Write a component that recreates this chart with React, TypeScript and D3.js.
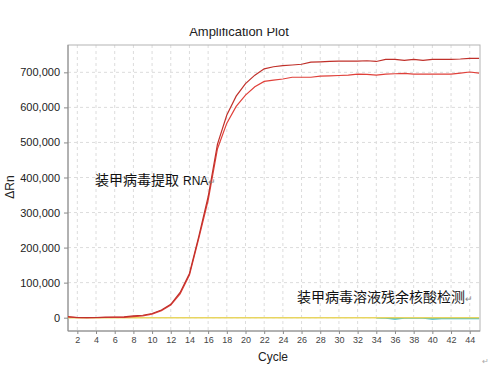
import React, { useRef, useEffect } from "react";
import * as d3 from "d3";

// cycles 1..45
const cycles = d3.range(1, 46);

// ΔRn, one entry per cycle
const rnaHigh = [
  3000, 500, 0, 500, 1500, 2000, 2500, 5000, 7000, 12000,
  22000, 38000, 72000, 126000, 232000, 345000, 495000, 578000, 632000, 668000,
  692000, 710000, 716000, 719000, 721000, 723000, 729000, 730000, 731000, 732000,
  732000, 732000, 733000, 731000, 737000, 737000, 734000, 737000, 734000, 737000,
  737000, 737000, 738000, 740000, 740000,
];
const rnaLow = [
  2000, 0, 0, 0, 500, 1000, 1000, 3000, 5000, 10000,
  20000, 36000, 68000, 122000, 226000, 335000, 482000, 555000, 603000, 635000,
  659000, 674000, 678000, 681000, 686000, 686000, 686000, 689000, 690000, 691000,
  692000, 695000, 694000, 692000, 695000, 696000, 697000, 695000, 695000, 695000,
  695000, 695000, 698000, 701000, 698000,
];
const residualTeal = [
  0, 0, 0, 0, 0, 0, 0, 0, 0, 0,
  0, 0, 0, 0, 0, 0, 0, 0, 0, 0,
  0, 0, 0, 0, 0, 0, 0, 0, 0, 0,
  0, 0, 0, 0, -1000, -3500, -1000, 0, -1000, -3500,
  -2000, -2500, -2500, -2500, -2500,
];
const residualGreen = [
  0, 0, 0, 0, 0, 0, 0, 0, 0, 0,
  0, 0, 0, 0, 0, 0, 0, 0, 0, 0,
  0, 0, 0, 0, 0, 0, 0, 0, 0, 0,
  0, 0, 0, 0, 0, -1500, 0, 0, 0, -1500,
  -1000, -1000, -1000, -1000, -1000,
];
const residualYellow = cycles.map(() => 0);

const xTicks = d3.range(2, 46, 2);
const yTicks = [0, 100000, 200000, 300000, 400000, 500000, 600000, 700000];

const App = () => {
  const chart = useRef<SVGSVGElement>(null);

  useEffect(() => {
    document.body.style.margin = "0";
    const svg = d3.select(chart.current);
    svg.selectAll("*").remove();

    const left = 68, right = 480, top = 45, bottom = 331;
    const x = d3.scaleLinear().domain([1, 45.1]).range([left, right]);
    const y = d3.scaleLinear().domain([-38000, 778000]).range([bottom, top]);
    const font = "Arial, 'Liberation Sans', sans-serif";

    const defs = svg.append("defs");
    defs.append("clipPath").attr("id", "plotClip")
      .append("rect").attr("x", left).attr("y", top)
      .attr("width", right - left).attr("height", bottom - top);
    defs.append("clipPath").attr("id", "titleClip")
      .append("rect").attr("x", 0).attr("y", 28).attr("width", 490).attr("height", 20);

    // grid
    const grid = svg.append("g").attr("stroke", "#dcdcdc").attr("stroke-dasharray", "3,3");
    grid.selectAll("line.v").data(xTicks).join("line")
      .attr("class", "v")
      .attr("x1", d => x(d)).attr("x2", d => x(d))
      .attr("y1", top).attr("y2", bottom);
    grid.selectAll("line.h").data(yTicks).join("line")
      .attr("class", "h")
      .attr("x1", left).attr("x2", right)
      .attr("y1", d => y(d)).attr("y2", d => y(d));

    // frame
    svg.append("rect")
      .attr("x", left).attr("y", top)
      .attr("width", right - left).attr("height", bottom - top)
      .attr("fill", "none").attr("stroke", "#b4b4b4");
    svg.append("line").attr("x1", left).attr("x2", left).attr("y1", top).attr("y2", bottom)
      .attr("stroke", "#8a8a8a");
    svg.append("line").attr("x1", left).attr("x2", right).attr("y1", bottom).attr("y2", bottom)
      .attr("stroke", "#8a8a8a");

    // axes
    const yAxis = svg.append("g").attr("transform", `translate(${left},0)`)
      .call(d3.axisLeft(y).tickValues(yTicks).tickSize(4).tickPadding(4)
        .tickFormat(d => d3.format(",")(d as number)));
    yAxis.select(".domain").remove();
    yAxis.selectAll("line").attr("stroke", "#8a8a8a");
    yAxis.selectAll("text").attr("font-family", font).attr("font-size", 11).attr("fill", "#222");

    const xAxis = svg.append("g").attr("transform", `translate(0,${bottom})`)
      .call(d3.axisBottom(x).tickValues(xTicks).tickSize(3).tickPadding(3));
    xAxis.select(".domain").remove();
    xAxis.selectAll("line").attr("stroke", "#8a8a8a");
    xAxis.selectAll("text").attr("font-family", font).attr("font-size", 9).attr("fill", "#444");

    // curves
    const line = d3.line<number>().x((d, i) => x(cycles[i])).y(d => y(d));
    // residual wells only leave the baseline late in the run
    const lateLine = d3.line<number>().defined((d, i) => i >= 33)
      .x((d, i) => x(cycles[i])).y(d => y(d));
    const plot = svg.append("g").attr("clip-path", "url(#plotClip)").attr("fill", "none");
    plot.append("path").attr("d", lateLine(residualGreen)).attr("stroke", "#5cb86a").attr("stroke-width", 1);
    plot.append("path").attr("d", lateLine(residualTeal)).attr("stroke", "#36b8c0").attr("stroke-width", 1.5);
    plot.append("path").attr("d", line(residualYellow)).attr("stroke", "#e8d560").attr("stroke-width", 1.5);
    plot.append("path").attr("d", line(rnaLow)).attr("stroke", "#e0403a").attr("stroke-width", 1.2);
    plot.append("path").attr("d", line(rnaHigh)).attr("stroke", "#c0302a").attr("stroke-width", 1.2);

    // titles
    svg.append("text").attr("x", 239).attr("y", 36).attr("text-anchor", "middle")
      .attr("clip-path", "url(#titleClip)")
      .attr("font-family", font).attr("font-size", 13).attr("fill", "#222")
      .text("Amplification Plot");
    svg.append("text").attr("x", 273).attr("y", 361).attr("text-anchor", "middle")
      .attr("font-family", font).attr("font-size", 12).attr("fill", "#222")
      .text("Cycle");
    svg.append("text").attr("transform", "translate(14,187) rotate(-90)")
      .attr("text-anchor", "middle")
      .attr("font-family", font).attr("font-size", 12).attr("fill", "#222")
      .text("ΔRn");

    // annotations
    const note1 = svg.append("text").attr("x", 95).attr("y", 185).attr("fill", "#111");
    note1.append("tspan").attr("font-family", "'Noto Sans CJK SC', sans-serif").attr("font-size", 14).text("装甲病毒提取");
    note1.append("tspan").attr("font-family", font).attr("font-size", 12).attr("dx", 4).text("RNA");
    note1.append("tspan").attr("font-family", font).attr("font-size", 9).attr("fill", "#888").text("↵");

    const note2 = svg.append("text").attr("x", 297).attr("y", 302).attr("fill", "#111");
    note2.append("tspan").attr("font-family", "'Noto Sans CJK SC', sans-serif").attr("font-size", 14).text("装甲病毒溶液残余核酸检测");
    note2.append("tspan").attr("font-family", font).attr("font-size", 9).attr("fill", "#888").text("↵");

    svg.append("text").attr("x", 482).attr("y", 364)
      .attr("font-family", font).attr("font-size", 8).attr("fill", "#aaa").text("↵");
  });

  return (
    <div id="chartArea">
      <svg ref={chart} width={490} height={365} style={{ display: "block", background: "#fff" }}></svg>
    </div>
  );
};

export default App;
